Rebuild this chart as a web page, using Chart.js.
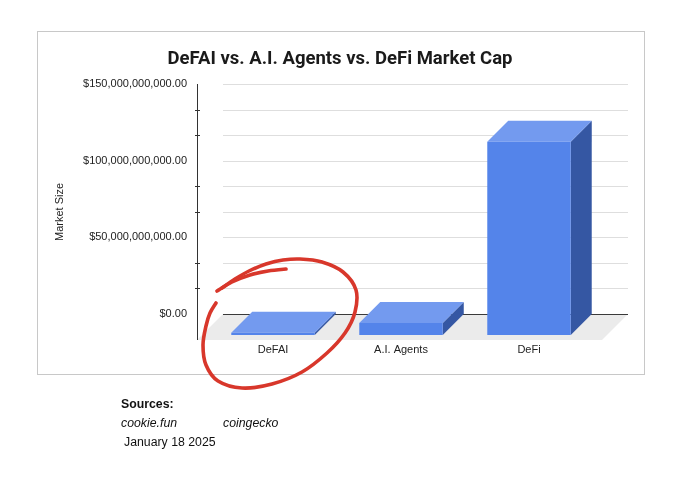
<!DOCTYPE html>
<html><head><meta charset="utf-8">
<script src="https://cdn.jsdelivr.net/npm/chart.js@4"></script>
<style>
html,body{margin:0;padding:0;background:#fff;width:680px;height:478px;overflow:hidden;}
#frame{position:absolute;left:37px;top:31px;width:606px;height:342px;border:1px solid #c8c8c8;}
#wrap{position:absolute;left:0;top:0;width:680px;height:478px;}
#ann{position:absolute;left:0;top:0;pointer-events:none;}
.src{position:absolute;font-family:"Liberation Sans",Arial,sans-serif;font-size:12.3px;line-height:14px;color:#111;white-space:nowrap;}
</style></head><body>
<div id="frame"></div>
<div id="wrap"><canvas id="c"></canvas></div>
<svg id="ann" width="680" height="478"><path id="loop" fill="none" stroke="#d8372b" stroke-width="3.6" stroke-linecap="round" stroke-linejoin="round"/><path id="hook" fill="none" stroke="#d8372b" stroke-width="3.6" stroke-linecap="round"/></svg>
<div class="src" style="left:121px;top:397px;font-weight:bold">Sources:</div>
<div class="src" style="left:121px;top:416px;font-style:italic">cookie.fun</div>
<div class="src" style="left:223px;top:416px;font-style:italic">coingecko</div>
<div class="src" style="left:124px;top:435px">January 18 2025</div>
<script>
const categories = ["DeFAI", "A.I. Agents", "DeFi"];
const marketCap = [1.4e9, 7.8e9, 126e9];
const yTickValues = [0, 50e9, 100e9, 150e9];
const yTickLabels = ["$0.00", "$50,000,000,000.00", "$100,000,000,000.00", "$150,000,000,000.00"];
const chartTitle = "DeFAI vs. A.I. Agents vs. DeFi Market Cap";
const yAxisTitle = "Market Size";

const FRONT = '#5484ea', TOP = '#739aef', SIDE = '#3557a3';
const BD = 21;          // bar depth offset
const FD = 26;          // floor depth offset

Chart.defaults.font.family = "'Liberation Sans', Arial, sans-serif";
Chart.defaults.color = '#222';

const threeD = {
  id: 'threeD',
  beforeDatasetsDraw(chart) {
    const {ctx, chartArea: a, scales: {y}} = chart;
    const y0 = y.getPixelForValue(0);
    const gl = a.left - 7, gr = a.right + 14;
    const top = yTickValues[yTickValues.length - 1];
    const step = (yTickValues[1] - yTickValues[0]) / 3;
    ctx.save();
    ctx.lineWidth = 1;
    ctx.strokeStyle = '#dedede';
    for (let i = 1; i * step <= top + 1; i++) {
      const py = Math.round(y.getPixelForValue(i * step)) + 0.5;
      ctx.beginPath(); ctx.moveTo(gl, py); ctx.lineTo(gr, py); ctx.stroke();
    }
    ctx.fillStyle = '#ebebeb';
    ctx.beginPath();
    ctx.moveTo(gl, y0); ctx.lineTo(gr, y0);
    ctx.lineTo(gr - FD, a.bottom); ctx.lineTo(gl - FD, a.bottom);
    ctx.closePath(); ctx.fill();
    ctx.strokeStyle = '#3a3a3a';
    const zy = Math.round(y0) + 0.5;
    ctx.beginPath(); ctx.moveTo(gl, zy); ctx.lineTo(gr, zy); ctx.stroke();
    const ax = Math.round(gl - FD) + 0.5;
    ctx.strokeStyle = '#333';
    ctx.beginPath(); ctx.moveTo(ax, a.top); ctx.lineTo(ax, a.bottom); ctx.stroke();
    for (let i = 1; i * step <= top + 1; i++) {
      if (i % 3 === 0) continue;
      const py = Math.round(y.getPixelForValue(i * step)) + 0.5;
      ctx.beginPath(); ctx.moveTo(ax - 2.5, py); ctx.lineTo(ax + 2.5, py); ctx.stroke();
    }
    const meta = chart.getDatasetMeta(0);
    meta.data.forEach(el => {
      const p = el.getProps(['x', 'y', 'base', 'width'], true);
      const x0 = p.x - p.width / 2, x1 = p.x + p.width / 2;
      ctx.fillStyle = SIDE;
      ctx.beginPath();
      ctx.moveTo(x1, p.y); ctx.lineTo(x1, p.base);
      ctx.lineTo(x1 - BD, p.base + BD); ctx.lineTo(x1 - BD, p.y + BD);
      ctx.closePath(); ctx.fill();
      ctx.fillStyle = TOP;
      ctx.beginPath();
      ctx.moveTo(x0, p.y); ctx.lineTo(x1, p.y);
      ctx.lineTo(x1 - BD, p.y + BD); ctx.lineTo(x0 - BD, p.y + BD);
      ctx.closePath(); ctx.fill();
    });
    ctx.restore();
  },
  beforeDatasetDraw(chart) {
    chart.ctx.save();
    chart.ctx.translate(-BD, BD);
  },
  afterDatasetDraw(chart) {
    chart.ctx.restore();
  }
};

new Chart(document.getElementById('c'), {
  type: 'bar',
  data: {
    labels: categories,
    datasets: [{
      data: marketCap,
      backgroundColor: FRONT,
      borderWidth: 0,
      barPercentage: 0.652,
      categoryPercentage: 1,
      clip: false
    }]
  },
  options: {
    responsive: true,
    maintainAspectRatio: false,
    animation: false,
    events: [],
    layout: { padding: { left: 0, right: 0, top: 30, bottom: 0 } },
    plugins: {
      legend: { display: false },
      tooltip: { enabled: false },
      title: {
        display: true,
        text: chartTitle,
        color: '#1a1a1a',
        font: { family: "Roboto, 'Liberation Sans', Arial, sans-serif", size: 18.5, weight: 'bold', lineHeight: 1.2 },
        padding: { top: 17.9, bottom: 13.9 }
      }
    },
    scales: {
      x: {
        grid: { display: false, drawTicks: false },
        border: { display: false },
        ticks: { labelOffset: -BD, padding: 3.4, font: { size: 11 }, color: '#222', maxRotation: 0 },
        afterFit(s) { s.height = 138; }
      },
      y: {
        min: -17e9,
        max: 150e9,
        grid: { display: false, drawTicks: false },
        border: { display: false },
        afterBuildTicks(s) { s.ticks = yTickValues.map(v => ({ value: v })); },
        ticks: {
          padding: 43,
          font: { size: 11 },
          color: '#222',
          callback: (v) => yTickLabels[yTickValues.indexOf(v)]
        },
        title: {
          display: true,
          text: yAxisTitle,
          color: '#222',
          font: { size: 11 },
          padding: { top: 53.4, bottom: 0 }
        },
        afterFit(s) { s.width = 230; }
      },
      yR: {
        type: 'linear',
        position: 'right',
        display: true,
        grid: { display: false, drawTicks: false },
        border: { display: false },
        ticks: { display: false },
        afterFit(s) { s.width = 66; }
      }
    }
  },
  plugins: [threeD]
});

function crPath(p, closed) {
  const n = p.length;
  const get = i => closed ? p[(i + n) % n] : p[Math.max(0, Math.min(n - 1, i))];
  let d = `M${p[0][0]},${p[0][1]}`;
  const last = closed ? n : n - 1;
  for (let i = 0; i < last; i++) {
    const p0 = get(i - 1), p1 = get(i), p2 = get(i + 1), p3 = get(i + 2);
    const c1 = [p1[0] + (p2[0] - p0[0]) / 6, p1[1] + (p2[1] - p0[1]) / 6];
    const c2 = [p2[0] - (p3[0] - p1[0]) / 6, p2[1] - (p3[1] - p1[1]) / 6];
    d += ` C${c1[0].toFixed(1)},${c1[1].toFixed(1)} ${c2[0].toFixed(1)},${c2[1].toFixed(1)} ${p2[0]},${p2[1]}`;
  }
  return d;
}
const loopPts = [[222,288],[235,279],[249,271],[266,264],[283,260],[300,259],[322,262],[343,272],[356,290],[355,312],[345,333],[327,353],[302,372],[272,384],[242,388],[218,381],[206,365],[203,345],[206,326],[210,313],[216,303]];
const hookPts = [[217,291],[232,282],[250,275],[268,271],[286,269]];
document.getElementById('loop').setAttribute('d', crPath(loopPts, false));
document.getElementById('hook').setAttribute('d', crPath(hookPts, false));
</script>
</body></html>
